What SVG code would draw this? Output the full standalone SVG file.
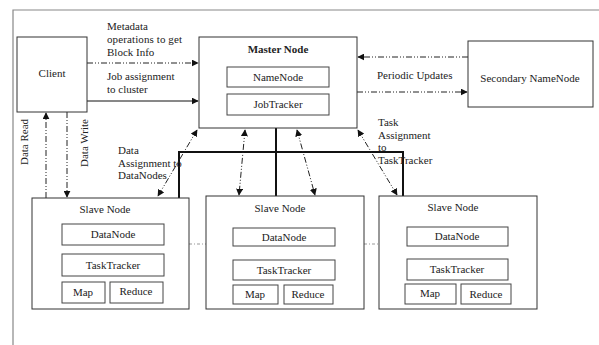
<svg xmlns="http://www.w3.org/2000/svg" width="599" height="345" viewBox="0 0 599 345">
<defs>
<marker id="ah" viewBox="0 0 10 10" refX="9" refY="5" markerWidth="7" markerHeight="7" markerUnits="userSpaceOnUse" orient="auto-start-reverse">
<path d="M0,0 L10,5 L0,10 z" fill="#111"/>
</marker>
<style>
.box{fill:#fff;stroke:#333;stroke-width:1}
.inner{fill:#fff;stroke:#444;stroke-width:1}
.t{font-family:"Liberation Serif","Times New Roman",serif;font-size:11px;fill:#222}
.c{text-anchor:middle}
.b{font-weight:bold}
.dd{fill:none;stroke:#222;stroke-width:1;stroke-dasharray:6,2,1,2,1,2}
.sol{fill:none;stroke:#111;stroke-width:1}
.thick{fill:none;stroke:#111;stroke-width:2}
.frame{fill:none;stroke:#888;stroke-width:1.2}
.sep{fill:none;stroke:#999;stroke-width:1;stroke-dasharray:3,2,1,2}
</style>
</defs>
<rect width="599" height="345" fill="#fff"/>
<path class="frame" d="M13,345 L13,10 L599,10"/>

<g id="connectors">
<path class="dd" d="M87,63 L198,63" marker-end="url(#ah)"/>
<path class="sol" d="M87,101 L198,101" marker-end="url(#ah)"/>
<path class="dd" d="M468,57 L358,57" marker-end="url(#ah)"/>
<path class="dd" d="M357,92 L467,92" marker-end="url(#ah)"/>
<path class="dd" d="M46,198 L46,113" marker-end="url(#ah)"/>
<path class="dd" d="M67,112 L67,197" marker-end="url(#ah)"/>
<path class="thick" d="M179,198 L179,152 L403,152 L403,196"/>
<path class="thick" d="M276,128 L276,196"/>
<path class="dd" d="M197,130 L158,196" marker-start="url(#ah)" marker-end="url(#ah)"/>
<path class="dd" d="M245,130 L239,195" marker-start="url(#ah)" marker-end="url(#ah)"/>
<path class="dd" d="M297,130 L315,195" marker-start="url(#ah)" marker-end="url(#ah)"/>
<path class="dd" d="M358,130 L397,195" marker-start="url(#ah)" marker-end="url(#ah)"/>
<path class="sep" d="M189,244 L206,244"/>
<path class="sep" d="M364,244 L379,244"/>
</g>

<g id="labels">
<text class="t" x="107" y="30">Metadata</text>
<text class="t" x="107" y="43" textLength="75" lengthAdjust="spacing">operations to get</text>
<text class="t" x="107" y="56">Block Info</text>
<text class="t" x="107" y="80">Job assignment</text>
<text class="t" x="107" y="93">to cluster</text>
<text class="t" x="377" y="79">Periodic Updates</text>
<text class="t c" transform="translate(28,142) rotate(-90)">Data Read</text>
<text class="t c" transform="translate(88,143) rotate(-90)">Data Write</text>
<text class="t" x="118" y="154">Data</text>
<text class="t" x="118" y="167">Assignment to</text>
<text class="t" x="118" y="179">DataNodes</text>
<text class="t" x="378" y="126">Task</text>
<text class="t" x="378" y="139">Assignment</text>
<text class="t" x="378" y="151">to</text>
<text class="t" x="378" y="164">TaskTracker</text>
</g>

<g id="client">
<rect class="box" x="17" y="37" width="70" height="75"/>
<text class="t c" x="52" y="77">Client</text>
</g>

<g id="master">
<rect class="box" x="199" y="37" width="158" height="91"/>
<text class="t c b" x="278" y="53">Master Node</text>
<rect class="inner" x="227" y="67" width="102" height="20"/>
<text class="t c" x="278" y="81">NameNode</text>
<rect class="inner" x="227" y="94" width="102" height="21"/>
<text class="t c" x="278" y="108">JobTracker</text>
</g>

<g id="secondary">
<rect class="box" x="468" y="41" width="125" height="66"/>
<text class="t c" x="530" y="82">Secondary NameNode</text>
</g>

<g id="slave1">
<rect class="box" x="32" y="198" width="157" height="111"/>
<text class="t c" x="105" y="213">Slave Node</text>
<rect class="inner" x="62" y="224" width="102" height="21"/>
<text class="t c" x="113" y="238">DataNode</text>
<rect class="inner" x="62" y="254" width="102" height="22"/>
<text class="t c" x="113" y="269">TaskTracker</text>
<rect class="inner" x="62" y="282" width="43" height="21"/>
<text class="t c" x="83" y="296">Map</text>
<rect class="inner" x="110" y="282" width="53" height="21"/>
<text class="t c" x="136" y="295">Reduce</text>
</g>

<g id="slave2">
<rect class="box" x="206" y="196" width="158" height="113"/>
<text class="t c" x="280" y="212">Slave Node</text>
<rect class="inner" x="233" y="228" width="102" height="18"/>
<text class="t c" x="284" y="241">DataNode</text>
<rect class="inner" x="233" y="260" width="102" height="20"/>
<text class="t c" x="284" y="274">TaskTracker</text>
<rect class="inner" x="233" y="285" width="45" height="19"/>
<text class="t c" x="255" y="298">Map</text>
<rect class="inner" x="284" y="285" width="49" height="19"/>
<text class="t c" x="308" y="298">Reduce</text>
</g>

<g id="slave3">
<rect class="box" x="379" y="196" width="158" height="113"/>
<text class="t c" x="453" y="211">Slave Node</text>
<rect class="inner" x="407" y="227" width="101" height="19"/>
<text class="t c" x="457" y="240">DataNode</text>
<rect class="inner" x="407" y="259" width="101" height="21"/>
<text class="t c" x="457" y="273">TaskTracker</text>
<rect class="inner" x="405" y="284" width="51" height="20"/>
<text class="t c" x="430" y="297">Map</text>
<rect class="inner" x="461" y="284" width="50" height="20"/>
<text class="t c" x="486" y="298">Reduce</text>
</g>
</svg>
